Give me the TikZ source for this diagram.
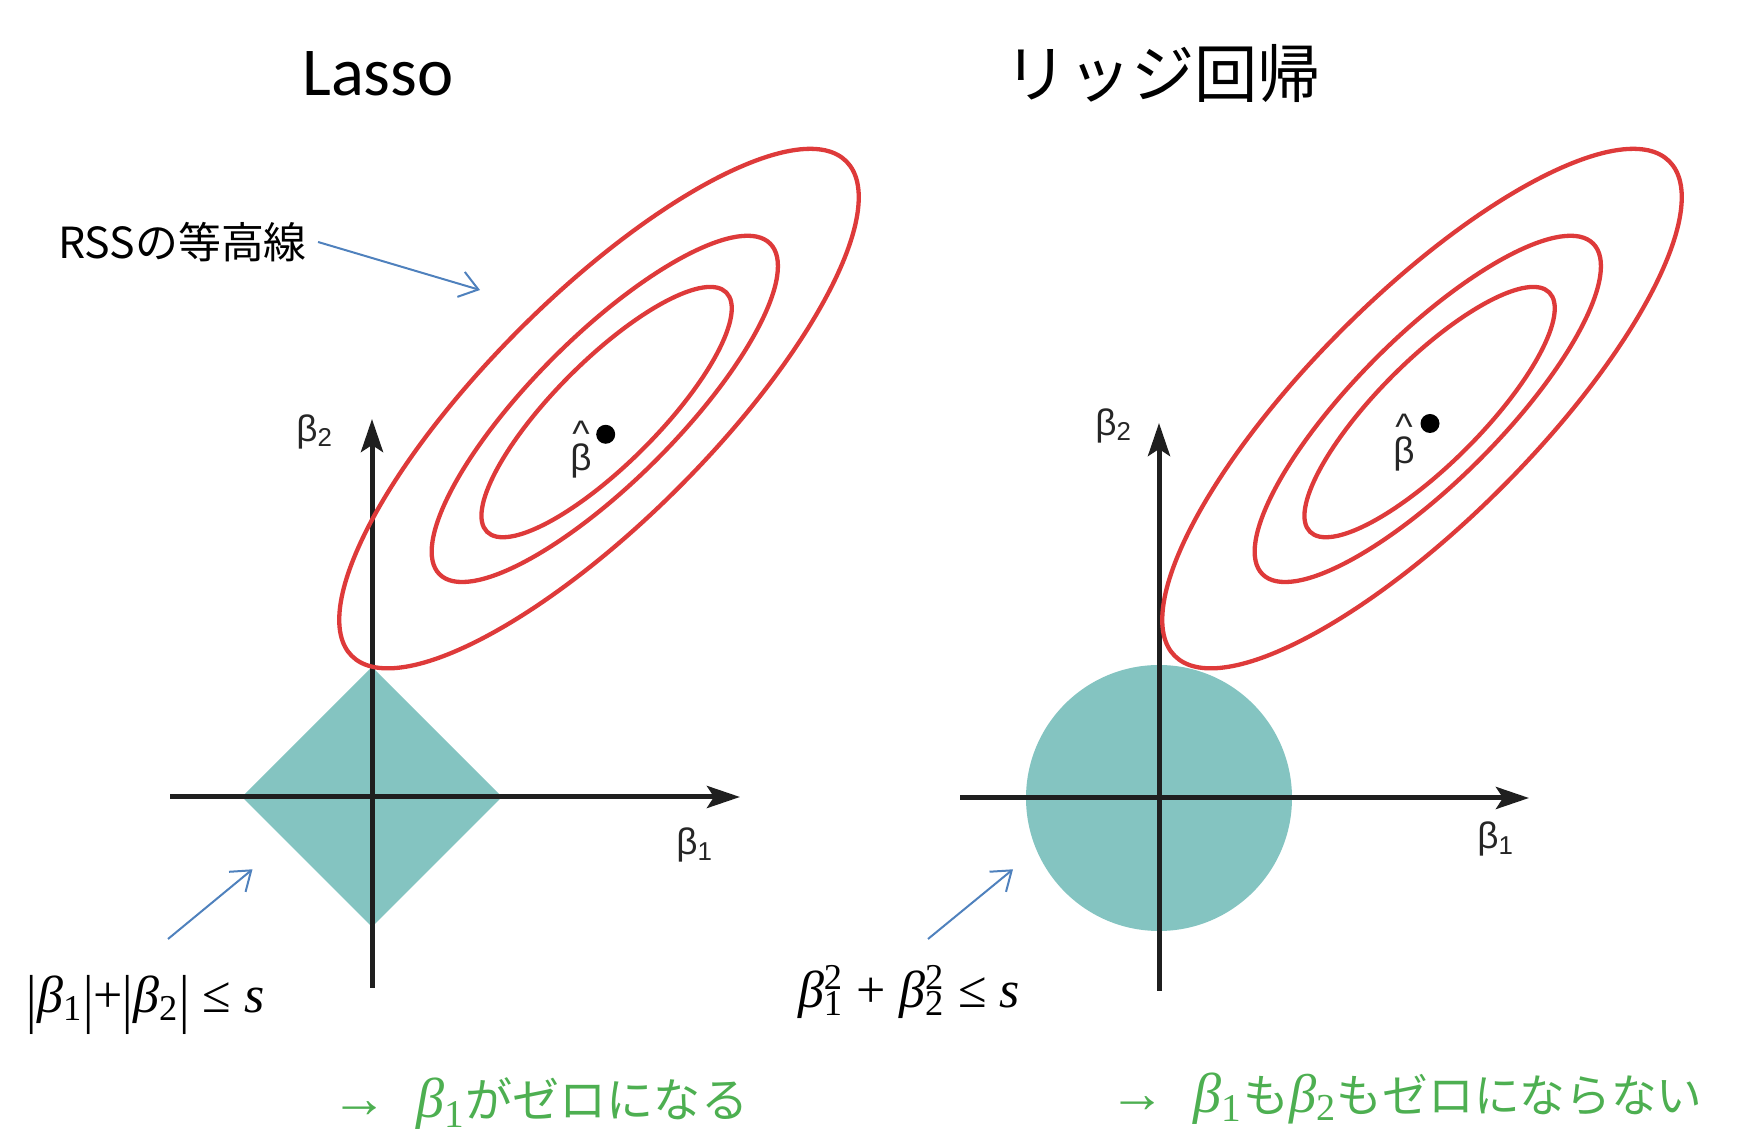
\documentclass[tikz,border=0pt]{standalone}
\usepackage{fontspec}
\usepackage{xcolor}
\usetikzlibrary{arrows.meta}
\newfontfamily\jpfont{Noto Sans CJK JP}
\newfontfamily\titlefont{Carlito}
\newfontfamily\serfont{Liberation Serif}
\newfontfamily\axfont{Liberation Sans}
\definecolor{contourred}{RGB}{222,58,58}
\definecolor{regionteal}{RGB}{132,196,193}
\definecolor{calloutblue}{RGB}{79,129,189}
\definecolor{noteGreen}{RGB}{77,175,81}
\newcommand{\bsub}[1]{\textit{β}\textsubscript{#1}}
\newcommand{\bsq}[1]{\textit{β}\rlap{\textsuperscript{2}}\textsubscript{#1}}
\newcommand{\tallbar}{\raisebox{-0.15em}{\scalebox{1}[1.25]{|}}}
\begin{document}
\begin{tikzpicture}[x=0.1mm,y=0.1mm,
			axis/.style={draw=black!88,line width=0.5mm,-{Stealth[length=3.3mm,width=2.2mm,inset=0.7mm]}},
			contour/.style={draw=contourred,line width=0.43mm},
			region/.style={fill=regionteal,draw=none},
			callout/.style={draw=calloutblue,line width=0.2mm,-{Straight Barb[length=1.8mm,width=2.6mm]}},
			axlabel/.style={font={\axfont\fontsize{10.5}{12}\selectfont},text=black!85,inner sep=0pt},
			heading/.style={inner sep=0pt,text=black},
			formula/.style={font={\serfont\fontsize{14.8}{18}\selectfont},inner sep=0pt,anchor=base},
			verdict/.style={text=noteGreen,inner sep=0pt}]
			\useasboundingbox (0,0) rectangle (1750,1142);
			% feasible regions
			\fill[region] (372,475) -- (502,345) -- (372,215) -- (242,345) -- cycle;
			\fill[region] (1159,344) circle [radius=133];
			% axes
			\draw[axis] (170,345) -- (740,345);
			\draw[axis] (372,154) -- (372,723);
			\draw[axis] (960,344) -- (1529,344);
			\draw[axis] (1159,151) -- (1159,719);
			% RSS contours
			\foreach \dx in {0,823} {
				\begin{scope}[shift={(\dx,0)}]
					\draw[contour,shift={(599,733.4)},rotate=45] (0,0) ellipse [x radius=349.7,y radius=112.2];
					\draw[contour,shift={(604.8,733.1)},rotate=45] (0,0) ellipse [x radius=233.8,y radius=72.5];
					\draw[contour,shift={(606.6,729.9)},rotate=45] (0,0) ellipse [x radius=169.2,y radius=51.8];
				\end{scope}
			}
			\fill (605.7,707.7) circle [radius=9.5];
			\fill (1430,718.5) circle [radius=9.5];
			\node[axlabel,align=center] (hatL) at (581,692.5) {\textasciicircum\\[-0.9ex]β};
			\node[axlabel,align=center] (hatR) at (1404,699.5) {\textasciicircum\\[-0.9ex]β};
			\node[axlabel] (b2L) at (315,710.5) {β\textsubscript{2}};
			\node[axlabel] (b1L) at (695,297) {β\textsubscript{1}};
			\node[axlabel] (b2R) at (1114,716.5) {β\textsubscript{2}};
			\node[axlabel] (b1R) at (1496,303) {β\textsubscript{1}};
			% titles
			\node[heading,font={\titlefont\fontsize{19.5}{23}\selectfont}] (lassoT) at (378,1068) {Lasso};
			\node[heading,font={\jpfont\fontsize{18}{22}\selectfont}] (ridgeT) at (1163,1068) {リッジ回帰};
			% callouts
			\node[heading,anchor=west,inner sep=3pt,font={\jpfont\fontsize{12.2}{15}\selectfont}] (rss) at (47,900) {RSSの等高線};
			\coordinate (rssTo) at (480,852);
			\draw[callout] (rss.east) -- (rssTo);
			\node[formula] (lassoF) at (145.5,129) {\tallbar\bsub{1}\tallbar+\tallbar\bsub{2}\tallbar\ ≤ \textit{s}};
			\node[formula] (ridgeF) at (909,134) {\bsq{1} + \bsq{2} ≤ \textit{s}};
			\coordinate (lassoFrom) at (168,203);
			\coordinate (lassoTo) at (252.5,272.7);
			\coordinate (ridgeFrom) at (928,203);
			\coordinate (ridgeTo) at (1013,272.7);
			\draw[callout] (lassoFrom) -- (lassoTo);
			\draw[callout] (ridgeFrom) -- (ridgeTo);
			% conclusions
			\node[verdict] (lassoV) at (540,38)
			{{\serfont\fontsize{16}{19}\selectfont →\hspace{8pt}\bsub{1}}{\jpfont\fontsize{13.4}{16}\selectfont がゼロになる}};
			\node[verdict] (ridgeV) at (1406,43)
			{{\serfont\fontsize{16}{19}\selectfont →\hspace{8pt}\bsub{1}}{\jpfont\fontsize{13}{16}\selectfont も}{\serfont\fontsize{15.5}{19}\selectfont \bsub{2}}{\jpfont\fontsize{13}{16}\selectfont もゼロにならない}};
		\end{tikzpicture}
\end{document}
